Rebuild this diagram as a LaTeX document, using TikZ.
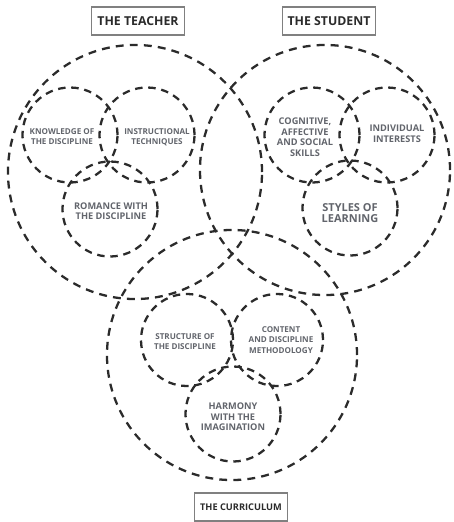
\documentclass[tikz,border=0pt]{standalone}
\usepackage{fontspec}
\setmainfont{Open Sans}
\usepackage{xcolor}
\usetikzlibrary{positioning}
\definecolor{inkgray}{HTML}{2B2B2B}
\definecolor{textgray}{HTML}{62656C}
\definecolor{boxgray}{HTML}{808080}
\tikzstyle{bigring} = [circle, draw=inkgray, line width=2.6pt, dash pattern=on 9pt off 7pt, minimum size=10cm]
\tikzstyle{ring} = [circle, draw=inkgray, line width=2.6pt, dash pattern=on 8.5pt off 6.5pt, minimum size=3.8cm]
\tikzstyle{topic} = [align=center, text=textgray, inner sep=0pt, font=\bfseries\fontsize{9.2}{11.5}\selectfont]
\tikzstyle{title} = [draw=boxgray, line width=1.2pt, text=inkgray, font=\bfseries\fontsize{14}{15}\selectfont, minimum width=3.7cm, minimum height=1.12cm]
\def\midsize{\fontsize{10.5}{12}\selectfont}
\def\bigsize{\fontsize{12.5}{12.8}\selectfont}

\begin{document}
\begin{tikzpicture}[x=0.04cm,y=-0.04cm]
\useasboundingbox (0,0) rectangle (453,522);
% the three big areas
\node[bigring, minimum size=10.16cm] (teacher) at (135,172) {};
\node[bigring] (student) at (325,170) {};
\node[bigring] (curriculum) at (232,355) {};
% teacher
\node[ring] (knowledge) at (70,135) {};
\node[ring] (technique) at (147,135) {};
\node[ring] (romance) at (110,209) {};
\node[topic] (tknow) at (62,137) {KNOWLEDGE OF\\THE DISCIPLINE};
\node[topic] (ttech) at (157,137) {INSTRUCTIONAL\\TECHNIQUES};
\node[topic, font=\bfseries\midsize] (trom) at (111,211) {ROMANCE WITH\\THE DISCIPLINE};
% student
\node[ring] (cognitive) at (312,135) {};
\node[ring] (interests) at (387,135) {};
\node[ring] (styles) at (350,208) {};
\node[topic, font=\bfseries\midsize] (scog) at (305,137) {COGNITIVE,\\AFFECTIVE\\AND SOCIAL\\SKILLS};
\node[topic, font=\bfseries\midsize] (sint) at (397,134) {INDIVIDUAL\\INTERESTS};
\node[topic, font=\bfseries\bigsize] (ssty) at (350,213) {STYLES OF\\LEARNING};
% curriculum
\node[ring, minimum size=3.68cm] (structure) at (187,340) {};
\node[ring, minimum size=3.68cm] (content) at (277,340) {};
\node[ring] (harmony) at (233,414) {};
\node[topic] (cstr) at (185,342) {STRUCTURE OF\\THE DISCIPLINE};
\node[topic] (ccon) at (281,340) {CONTENT\\AND DISCIPLINE\\METHODOLOGY};
\node[topic, font=\bfseries\midsize] (char) at (233,417) {HARMONY\\WITH THE\\IMAGINATION};
% labels
\node[title] (lteacher) at (138,21) {THE TEACHER};
\node[title] (lstudent) at (329,21) {THE STUDENT};
\node[title, font=\bfseries\fontsize{10.5}{12}\selectfont] (lcurr) at (241,507) {THE CURRICULUM};
\end{tikzpicture}
\end{document}
